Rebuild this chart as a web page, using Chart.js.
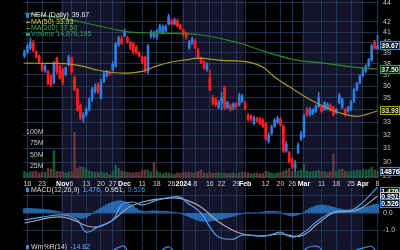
<!DOCTYPE html>
<html>
<head>
<meta charset="utf-8">
<title>NEM Daily</title>
<script src="https://cdn.jsdelivr.net/npm/chart.js@4.4.1/dist/chart.umd.min.js"></script>
<style>
  html, body { margin: 0; padding: 0; background: #000; }
  body { width: 400px; height: 250px; overflow: hidden; position: relative; }
  canvas { position: absolute; left: 0; }
</style>
</head>
<body>
<canvas id="priceChart" width="400" height="188" style="top:0"></canvas>
<canvas id="macdChart" width="400" height="57" style="top:187px"></canvas>
<canvas id="wmrChart" width="400" height="60" style="top:244px"></canvas>
<script>
// trading days shown, per month
const monthDays = [
    ['2023-10', [13, 16, 17, 18, 19, 20, 23, 24, 25, 26, 27, 30, 31]],
    ['2023-11', [1, 2, 3, 6, 7, 8, 9, 10, 13, 14, 15, 16, 17, 20, 21, 22, 24, 27, 28, 29, 30]],
    ['2023-12', [1, 4, 5, 6, 7, 8, 11, 12, 13, 14, 15, 18, 19, 20, 21, 22, 26, 27, 28, 29]],
    ['2024-01', [2, 3, 4, 5, 8, 9, 10, 11, 12, 16, 17, 18, 19, 22, 23, 24, 25, 26, 29, 30, 31]],
    ['2024-02', [1, 2, 5, 6, 7, 8, 9, 12, 13, 14, 15, 16, 20, 21, 22, 23, 26, 27, 28, 29]],
    ['2024-03', [1, 4, 5, 6, 7, 8, 11, 12, 13, 14, 15, 18, 19, 20, 21, 22, 25, 26, 27, 28]],
    ['2024-04', [1, 2, 3, 4, 5, 8]]
];
const shadedMonths = ['2023-11', '2024-01', '2024-03'];

const opens = [38.72, 39.09, 39.46, 39.90, 39.09, 38.72, 37.98, 37.35, 37.27, 36.90, 36.30, 38.50, 37.80, 37.44, 37.00, 37.90, 38.53, 36.74, 35.70, 34.37,
    33.30, 33.60, 34.04, 34.86, 35.60, 36.10, 34.95, 36.40, 36.90, 37.20, 37.44, 37.80, 39.80, 40.32, 40.61, 40.42, 40.03, 39.84, 39.55, 38.99,
    38.62, 38.60, 37.30, 40.60, 40.60, 40.50, 41.00, 40.90, 41.10, 41.80, 42.10, 41.80, 42.10, 41.70, 41.20, 40.90, 39.50, 39.90, 40.15, 39.27,
    38.53, 38.17, 37.45, 36.74, 35.03, 34.86, 34.20, 34.60, 35.87, 34.20, 34.37, 34.20, 34.53, 34.45, 34.70, 34.53, 33.56, 33.50, 32.90, 33.30,
    33.30, 33.16, 32.93, 31.54, 32.15, 32.70, 33.00, 33.24, 32.70, 30.80, 30.66, 30.22, 29.55, 30.70, 31.70, 31.90, 34.04, 33.64, 33.72, 33.88,
    34.28, 34.28, 34.04, 34.10, 34.37, 34.20, 33.80, 34.62, 34.20, 34.04, 33.90, 34.04, 34.70, 35.70, 36.30, 36.91, 37.35, 37.80, 38.35, 40.03,
    39.37];
const highs = [39.27, 39.84, 40.42, 40.20, 39.20, 38.80, 38.10, 37.90, 37.40, 37.00, 38.20, 38.60, 37.90, 37.60, 37.70, 38.80, 38.60, 36.90, 35.80, 34.50,
    33.80, 34.20, 35.00, 35.90, 36.20, 36.30, 36.60, 37.30, 37.40, 37.30, 38.20, 40.00, 40.60, 40.60, 41.30, 40.60, 40.10, 40.00, 39.70, 39.10,
    38.70, 38.70, 39.80, 41.20, 41.10, 41.30, 41.80, 41.70, 41.70, 42.80, 42.30, 42.40, 42.30, 41.80, 41.30, 41.00, 40.20, 40.50, 40.30, 39.40,
    38.60, 38.30, 38.10, 37.40, 35.20, 35.00, 34.80, 35.50, 36.00, 34.70, 34.50, 34.60, 34.60, 35.40, 35.30, 34.70, 33.70, 33.60, 33.50, 33.40,
    33.40, 33.30, 33.00, 32.20, 32.80, 33.30, 33.50, 33.40, 32.80, 31.50, 30.80, 30.30, 30.10, 31.40, 32.30, 33.70, 34.20, 34.20, 34.10, 34.40,
    35.45, 34.40, 34.70, 34.60, 34.50, 34.30, 34.10, 35.40, 35.00, 34.10, 34.30, 34.80, 35.80, 36.30, 37.00, 37.60, 37.90, 38.50, 39.80, 40.20,
    40.70];
const lows = [38.53, 38.90, 39.30, 39.10, 38.50, 38.00, 37.30, 37.20, 36.10, 35.95, 36.20, 37.10, 36.60, 36.10, 36.90, 37.80, 37.10, 35.60, 33.90, 33.20,
    33.00, 33.50, 33.90, 34.70, 35.40, 35.40, 34.90, 36.30, 36.80, 36.95, 37.30, 37.70, 39.60, 39.80, 40.50, 39.90, 39.30, 38.90, 38.90, 38.60,
    38.00, 37.20, 37.10, 40.40, 40.40, 40.30, 40.90, 40.80, 41.00, 41.70, 41.70, 41.70, 41.50, 41.20, 40.60, 40.30, 39.30, 39.80, 39.40, 38.40,
    38.00, 37.50, 37.30, 35.60, 34.40, 34.30, 34.10, 34.00, 34.00, 34.10, 33.90, 34.00, 34.10, 34.30, 34.60, 34.00, 33.10, 33.10, 32.80, 33.00,
    32.80, 32.60, 31.60, 31.40, 32.00, 32.60, 32.90, 32.70, 30.70, 30.70, 29.90, 29.50, 29.30, 30.60, 31.60, 31.80, 33.50, 33.50, 33.60, 33.80,
    34.20, 33.80, 33.95, 34.00, 33.90, 33.50, 33.70, 34.50, 34.10, 33.50, 33.80, 33.95, 34.60, 35.60, 36.20, 36.80, 37.20, 37.70, 38.20, 39.30,
    39.30];
const closes = [39.09, 39.65, 40.03, 39.27, 38.62, 38.17, 37.44, 37.80, 36.22, 36.10, 38.00, 37.27, 36.74, 36.30, 37.62, 38.60, 37.30, 35.70, 34.04, 33.40,
    33.60, 34.04, 34.86, 35.70, 35.90, 35.55, 36.30, 37.10, 37.27, 37.05, 37.98, 39.84, 40.42, 39.93, 41.00, 40.03, 39.46, 39.09, 39.00, 38.72,
    38.17, 37.35, 39.65, 41.00, 40.90, 41.10, 41.60, 41.50, 41.60, 42.50, 41.80, 42.20, 41.60, 41.30, 40.80, 40.50, 40.00, 40.30, 39.50, 38.53,
    38.10, 37.62, 37.95, 35.70, 34.53, 34.45, 34.60, 35.00, 34.20, 34.60, 34.04, 34.50, 34.30, 35.20, 35.10, 34.10, 33.24, 33.24, 33.35, 33.15,
    32.93, 32.70, 31.70, 32.00, 32.60, 33.16, 33.30, 32.80, 30.80, 31.30, 30.00, 29.65, 29.90, 31.25, 32.10, 33.50, 33.64, 34.04, 34.04, 34.28,
    35.03, 33.88, 34.60, 34.45, 33.96, 33.64, 34.04, 35.20, 34.86, 33.64, 34.20, 34.60, 35.70, 36.22, 36.91, 37.44, 37.80, 38.35, 39.65, 39.46,
    39.67];
// volume in millions of shares
const volumes = [15, 12, 14, 15, 16, 12, 14, 13, 22, 20, 60, 15, 15, 14, 12, 14, 15, 100, 22, 25,
    24, 20, 16, 14, 13, 12, 14, 12, 12, 8, 15, 28, 22, 16, 15, 13, 12, 12, 13, 13,
    18, 18, 18, 14, 35, 16, 12, 10, 12, 12, 10, 9, 12, 11, 14, 13, 14, 12, 13, 15,
    18, 12, 10, 14, 11, 12, 13, 11, 12, 10, 11, 12, 9, 12, 14, 13, 12, 10, 11, 12,
    10, 11, 15, 14, 12, 10, 12, 13, 16, 18, 22, 15, 14, 16, 18, 30, 16, 14, 15, 16,
    17, 14, 15, 12, 14, 53, 15, 19, 20, 16, 14, 15, 16, 18, 17, 19, 18, 20, 24, 18,
    14.876195];
// moving averages: [day index, value]
const ma50 = [[0, 38.05], [8, 38.02], [14, 38.0], [20, 37.75], [25, 37.4], [30, 37.2], [35, 37.15], [40, 37.3], [45, 37.8], [50, 38.15],
    [55, 38.35], [59, 38.5], [63, 38.42], [67, 38.3], [72, 38.25], [77, 38.1], [81, 37.7], [85, 36.8], [90, 35.96], [97, 34.86],
    [104, 34.04], [109, 33.64], [113, 33.48], [116, 33.62], [120, 33.93]];
const ma200 = [[0, 42.9], [10, 42.5], [20, 41.95], [30, 41.3], [36, 41.0], [46, 40.9], [60, 40.71], [73, 39.93], [80, 39.27], [92, 38.35],
    [101, 38.07], [111, 37.71], [120, 37.50]];
const macdLine = [[0, -0.40], [6, -0.23], [13, -0.11], [18, -0.40], [21, -1.09], [25, -0.80], [30, -0.40], [33, 0.46], [37, 0.63], [40, 0.46],
    [45, 0.74], [50, 0.91], [53, 0.91], [55, 0.63], [60, 0.00], [63, -0.80], [66, -1.37], [71, -1.49], [74, -1.26], [82, -1.31],
    [87, -1.09], [89, -1.26], [92, -1.37], [96, -0.97], [100, -0.40], [105, 0.06], [111, 0.17], [114, 0.46], [120, 1.476]];
const macdSignal = [[0, -0.57], [13, -0.23], [23, -0.80], [29, -0.51], [37, 0.46], [50, 0.86], [55, 0.74], [60, 0.34], [66, -0.51], [73, -1.14],
    [80, -1.31], [87, -1.20], [94, -1.31], [100, -0.57], [105, 0.00], [113, 0.17], [120, 0.951]];
const macdHist = [0.25, 0.26, 0.26, 0.25, 0.24, 0.23, 0.22, 0.2, 0.18, 0.16, 0.13, 0.1, 0.06,
    -0.03, -0.08, -0.12, -0.15, -0.2, -0.25, -0.3, -0.3, -0.25, -0.15,
    -0.02, 0.08, 0.18, 0.28, 0.38, 0.48, 0.56, 0.62, 0.66, 0.7, 0.7, 0.66,
    0.6, 0.5, 0.38, 0.26, 0.16, 0.1,
    0.08, 0.1, 0.12, 0.12, 0.12, 0.1, 0.1, 0.1, 0.08, 0.06, 0.05, 0.03,
    -0.02, -0.08, -0.15, -0.22, -0.3, -0.36, -0.42,
    -0.46, -0.48, -0.48, -0.46, -0.44, -0.42, -0.38, -0.34, -0.3, -0.26, -0.22, -0.18, -0.13, -0.08, -0.03,
    0, 0.01, 0, 0.02, 0.03, 0.04,
    0.06, 0.08, 0.1, 0.1, 0.1, 0.08, 0.05,
    -0.05, -0.1, -0.15, -0.18, -0.15, -0.1, -0.04,
    0.05, 0.15, 0.25, 0.33, 0.4, 0.45, 0.46, 0.45, 0.42,
    0.38, 0.33, 0.28, 0.24, 0.2, 0.18, 0.17, 0.18, 0.2,
    0.24, 0.28, 0.32, 0.36, 0.4, 0.45, 0.5, 0.526];
const willR = [[0, -40], [26, -30], [30, -10], [32, -4], [34, -2], [36, -20], [42, -30], [47, -8], [49, -3], [52, -18],
    [60, -70], [90, -90], [94, -20], [96, -5], [100, -3], [102, -20], [105, -40], [108, -25], [112, -10], [116, -4],
    [118, -2], [120, -14.82]];

const priceTicks = [44, 42, 41, 40, 39, 38, 37, 36, 35, 34, 33, 32, 31, 30, 29];
const volTicks = [25, 50, 75, 100];
const macdTicks = [1, 0.5, 0, -0.5, -1, -1.5];
const xTickDates = ['2023-10-16', '2023-10-23', '2023-11-01', '2023-11-06', '2023-11-13', '2023-11-20', '2023-11-27',
    '2023-12-01', '2023-12-11', '2023-12-18', '2023-12-26', '2024-01-02', '2024-01-08', '2024-01-16', '2024-01-22',
    '2024-01-29', '2024-02-01', '2024-02-12', '2024-02-20', '2024-02-26', '2024-03-01', '2024-03-11', '2024-03-18',
    '2024-03-25', '2024-04-01', '2024-04-08'];
const xTickText = ['16', '23', 'Nov', '6', '13', '20', '27', 'Dec', '11', '18', '26', '2024', '8', '16', '22',
    '29', 'Feb', '12', '20', '26', 'Mar', '11', '18', '25', 'Apr', '8'];

const dates = [];
monthDays.forEach(function (m) {
    m[1].forEach(function (d) {
        dates.push(m[0] + '-' + (d < 10 ? '0' + d : d));
    });
});

const FONT = 'Liberation Sans';
const gridColor = 'rgba(38, 66, 104, 0.75)';
const bandColor = '#13132a';
const upColor = '#2f7be0';
const downColor = '#ff1e1e';
Chart.defaults.font.family = FONT;
Chart.defaults.font.size = 7;

const candleColors = closes.map((c, i) => c >= opens[i] ? upColor : downColor);
const volColors = closes.map((c, i) => (i === 0 || c >= closes[i - 1]) ? 'rgba(28, 104, 70, 0.85)' : 'rgba(112, 64, 64, 0.85)');

function points(list) {
    return list.map(p => ({ x: dates[p[0]], y: p[1] }));
}

function isMonthTick(i) {
    return isNaN(parseInt(xTickText[i])) || xTickText[i] === '2024';
}

function xAxis(showLabels) {
    return {
        type: 'category',
        offset: true,
        grid: { color: gridColor, offset: false, drawTicks: false },
        border: { display: false },
        ticks: {
            display: showLabels,
            autoSkip: false,
            maxRotation: 0,
            padding: 2,
            color: function (c) { return isMonthTick(c.index) ? '#ffffff' : '#d0d0d0'; },
            font: function (c) { return { family: FONT, size: 7, weight: isMonthTick(c.index) ? 'bold' : 'normal' }; },
            callback: function (value, index) { return xTickText[index]; }
        },
        afterBuildTicks: function (scale) {
            scale.ticks = xTickDates.map(d => ({ value: dates.indexOf(d) }));
        },
        afterFit: function (scale) {
            scale.height = showLabels ? 10 : 0;
            scale.paddingLeft = 0;
            scale.paddingRight = 0;
        }
    };
}

function rightAxis(opts) {
    return Object.assign({
        position: 'right',
        grid: { color: gridColor, drawTicks: false },
        border: { display: false },
        ticks: { color: '#c4c4c4', padding: 4, font: { family: FONT, size: 7 } },
        afterFit: function (scale) {
            scale.width = 21;
            scale.paddingTop = 0;
            scale.paddingBottom = 0;
        }
    }, opts);
}

const bandPlugin = {
    id: 'bands',
    beforeDraw(chart) {
        const xs = chart.scales.x;
        const ctx = chart.ctx;
        const half = (xs.getPixelForValue(1) - xs.getPixelForValue(0)) / 2;
        ctx.save();
        ctx.fillStyle = bandColor;
        shadedMonths.forEach(function (m) {
            const idx = [];
            dates.forEach((d, i) => { if (d.indexOf(m) === 0) idx.push(i); });
            const x0 = xs.getPixelForValue(idx[0]) - half;
            const x1 = xs.getPixelForValue(idx[idx.length - 1]) + half;
            ctx.fillRect(x0, 0, x1 - x0, chart.height);
        });
        ctx.restore();
    }
};

function valueBox(ctx, x, y, text, border, color) {
    const w = 20, h = 9;
    const top = Math.round(y - h / 2);
    ctx.fillStyle = '#0a1424';
    ctx.fillRect(x, top, w, h);
    ctx.strokeStyle = border;
    ctx.lineWidth = 1;
    ctx.strokeRect(x + 0.5, top + 0.5, w - 1, h - 1);
    ctx.fillStyle = color;
    ctx.font = 'bold 7px ' + FONT;
    ctx.textAlign = 'center';
    ctx.textBaseline = 'middle';
    ctx.fillText(text, x + w / 2, top + h / 2 + 0.5);
}

function legendRow(ctx, x, y, parts) {
    ctx.font = '7px ' + FONT;
    ctx.textAlign = 'left';
    ctx.textBaseline = 'middle';
    parts.forEach(function (p) {
        ctx.fillStyle = p[1];
        ctx.fillText(p[0], x, y);
        x += ctx.measureText(p[0]).width + 3;
    });
}

const last = closes.length - 1;
const ma50Last = ma50[ma50.length - 1][1];
const ma200Last = ma200[ma200.length - 1][1];

const priceLabels = {
    id: 'priceLabels',
    afterDraw(chart) {
        const ctx = chart.ctx;
        const y = chart.scales.y;
        const yv = chart.scales.yVol;
        ctx.save();
        valueBox(ctx, 380, y.getPixelForValue(closes[last]), closes[last].toFixed(2), '#3a7fd0', '#ffffff');
        valueBox(ctx, 380, y.getPixelForValue(ma200Last), ma200Last.toFixed(2), '#2e9a2e', '#d8f0d0');
        valueBox(ctx, 380, y.getPixelForValue(ma50Last), ma50Last.toFixed(2), '#b0a030', '#e8e070');
        valueBox(ctx, 380, yv.getPixelForValue(volumes[last] * 1e6), (volumes[last] * 1000).toFixed(0), '#3a7fd0', '#ffffff');

        ctx.fillStyle = upColor;
        ctx.fillRect(26, 13, 3, 5);
        legendRow(ctx, 31, 15.5, [['NEM (Daily)', '#e8e8e8'], [closes[last].toFixed(2), '#e8e8e8']]);
        ctx.fillStyle = '#c8c040';
        ctx.fillRect(26, 22, 4, 1);
        legendRow(ctx, 31, 22.5, [['MA(50) ' + ma50Last.toFixed(2), '#d8d050']]);
        ctx.fillStyle = '#30a030';
        ctx.fillRect(26, 28, 4, 1);
        legendRow(ctx, 31, 28.5, [['MA(200) ' + ma200Last.toFixed(2), '#40b040']]);
        ctx.fillStyle = '#2a9a5a';
        ctx.fillRect(26, 33, 4, 3);
        legendRow(ctx, 31, 34.5, [['Volume ' + Math.round(volumes[last] * 1e6).toLocaleString('en-US'), '#30a060']]);
        ctx.restore();
    }
};

new Chart(document.getElementById('priceChart'), {
    type: 'bar',
    data: {
        labels: dates,
        datasets: [{
            label: 'Volume',
            yAxisID: 'yVol',
            data: volumes.map(v => v * 1e6),
            backgroundColor: volColors,
            grouped: false,
            barPercentage: 0.85,
            categoryPercentage: 1,
            order: 5
        }, {
            label: 'wick',
            yAxisID: 'y',
            data: lows.map((l, i) => [l, highs[i]]),
            backgroundColor: candleColors,
            grouped: false,
            barThickness: 1,
            order: 3
        }, {
            label: 'NEM',
            yAxisID: 'y',
            data: opens.map((o, i) => [o, closes[i]]),
            backgroundColor: candleColors,
            grouped: false,
            barThickness: 2,
            minBarLength: 1,
            order: 2
        }, {
            type: 'line',
            label: 'MA(50)',
            yAxisID: 'y',
            data: points(ma50),
            borderColor: '#a89a28',
            borderWidth: 1.2,
            pointRadius: 0,
            tension: 0.4,
            order: 1
        }, {
            type: 'line',
            label: 'MA(200)',
            yAxisID: 'y',
            data: points(ma200),
            borderColor: '#2a8a2a',
            borderWidth: 1.2,
            pointRadius: 0,
            tension: 0.4,
            order: 1
        }]
    },
    options: {
        responsive: false,
        animation: false,
        events: [],
        layout: { padding: { left: 23, right: 0, top: 0, bottom: 0 }, autoPadding: false },
        plugins: { legend: { display: false }, tooltip: { enabled: false } },
        scales: {
            x: xAxis(true),
            y: rightAxis({
                type: 'logarithmic',
                min: 28.87,
                max: 44.28,
                afterBuildTicks: function (scale) { scale.ticks = priceTicks.map(v => ({ value: v })); },
                ticks: { color: '#c4c4c4', padding: 4, font: { family: FONT, size: 7 }, callback: v => String(v) }
            }),
            yVol: {
                position: 'left',
                min: 0,
                max: 387e6,
                grid: { display: false, drawTicks: false },
                border: { display: false },
                ticks: {
                    mirror: true,
                    crossAlign: 'far',
                    padding: 3,
                    color: '#c4c4c4',
                    font: { family: FONT, size: 7 },
                    callback: v => (v / 1e6) + 'M'
                },
                afterBuildTicks: function (scale) { scale.ticks = volTicks.map(v => ({ value: v * 1e6 })); },
                afterFit: function (scale) {
                    scale.width = 0;
                    scale.paddingTop = 0;
                    scale.paddingBottom = 0;
                }
            }
        }
    },
    plugins: [bandPlugin, priceLabels]
});

const macdLabels = {
    id: 'macdLabels',
    afterDraw(chart) {
        const ctx = chart.ctx;
        const y = chart.scales.y;
        const area = chart.chartArea;
        const lastMacd = macdLine[macdLine.length - 1][1];
        const lastSig = macdSignal[macdSignal.length - 1][1];
        const lastHist = macdHist[macdHist.length - 1];
        const clamp = v => Math.max(area.top + 4.5, y.getPixelForValue(v));
        ctx.save();
        valueBox(ctx, 380, clamp(lastMacd), lastMacd.toFixed(3), '#3a8ae8', '#ffffff');
        valueBox(ctx, 380, clamp(lastSig), lastSig.toFixed(3), '#c8c8c8', '#ffffff');
        valueBox(ctx, 380, clamp(lastHist), lastHist.toFixed(3), '#3a8ae8', '#ffffff');
        ctx.fillStyle = '#3a8ae8';
        ctx.fillRect(26, 1, 3, 4);
        legendRow(ctx, 31, 3, [['MACD(12,26,9)', '#d8d8d8'], [lastMacd.toFixed(3) + ',', '#5ab0ff'],
            [lastSig.toFixed(3) + ',', '#e0e0e0'], [lastHist.toFixed(3), '#3a8ae8']]);
        ctx.restore();
    }
};

new Chart(document.getElementById('macdChart'), {
    type: 'bar',
    data: {
        labels: dates,
        datasets: [{
            label: 'hist',
            data: macdHist,
            backgroundColor: 'rgba(42, 120, 200, 0.8)',
            grouped: false,
            barPercentage: 1,
            categoryPercentage: 1,
            order: 3
        }, {
            type: 'line',
            label: 'MACD',
            data: points(macdLine),
            borderColor: '#4aa0f8',
            borderWidth: 1.2,
            pointRadius: 0,
            tension: 0.4,
            order: 1
        }, {
            type: 'line',
            label: 'Signal',
            data: points(macdSignal),
            borderColor: '#a8a8a8',
            borderWidth: 1.2,
            pointRadius: 0,
            tension: 0.4,
            order: 2
        }]
    },
    options: {
        responsive: false,
        animation: false,
        events: [],
        layout: { padding: { left: 23, right: 0, top: 0, bottom: 0 }, autoPadding: false },
        plugins: { legend: { display: false }, tooltip: { enabled: false } },
        scales: {
            x: xAxis(false),
            y: rightAxis({
                min: -1.771,
                max: 1.486,
                afterBuildTicks: function (scale) { scale.ticks = macdTicks.map(v => ({ value: v })); },
                ticks: { color: '#c4c4c4', padding: 4, font: { family: FONT, size: 7 }, callback: v => v.toFixed(1) }
            })
        }
    },
    plugins: [bandPlugin, macdLabels]
});

const wmrLabels = {
    id: 'wmrLabels',
    afterDraw(chart) {
        const ctx = chart.ctx;
        ctx.save();
        ctx.fillStyle = '#3a8ae8';
        ctx.fillRect(26, 1, 3, 4);
        legendRow(ctx, 31, 3, [['Wm%R(14)', '#d8d8d8'], [willR[willR.length - 1][1].toFixed(2), '#5ab0ff']]);
        ctx.restore();
    }
};

new Chart(document.getElementById('wmrChart'), {
    type: 'line',
    data: {
        labels: dates,
        datasets: [{
            label: 'Wm%R(14)',
            data: points(willR),
            borderColor: '#3a8ae8',
            borderWidth: 1.2,
            pointRadius: 0,
            tension: 0.3
        }]
    },
    options: {
        responsive: false,
        animation: false,
        events: [],
        layout: { padding: { left: 23, right: 0, top: 1, bottom: 0 }, autoPadding: false },
        plugins: { legend: { display: false }, tooltip: { enabled: false } },
        scales: {
            x: Object.assign(xAxis(false), { offset: true }),
            y: rightAxis({
                min: -100,
                max: 0,
                grid: { display: false },
                ticks: { display: false }
            })
        }
    },
    plugins: [bandPlugin, wmrLabels]
});
</script>
</body>
</html>
